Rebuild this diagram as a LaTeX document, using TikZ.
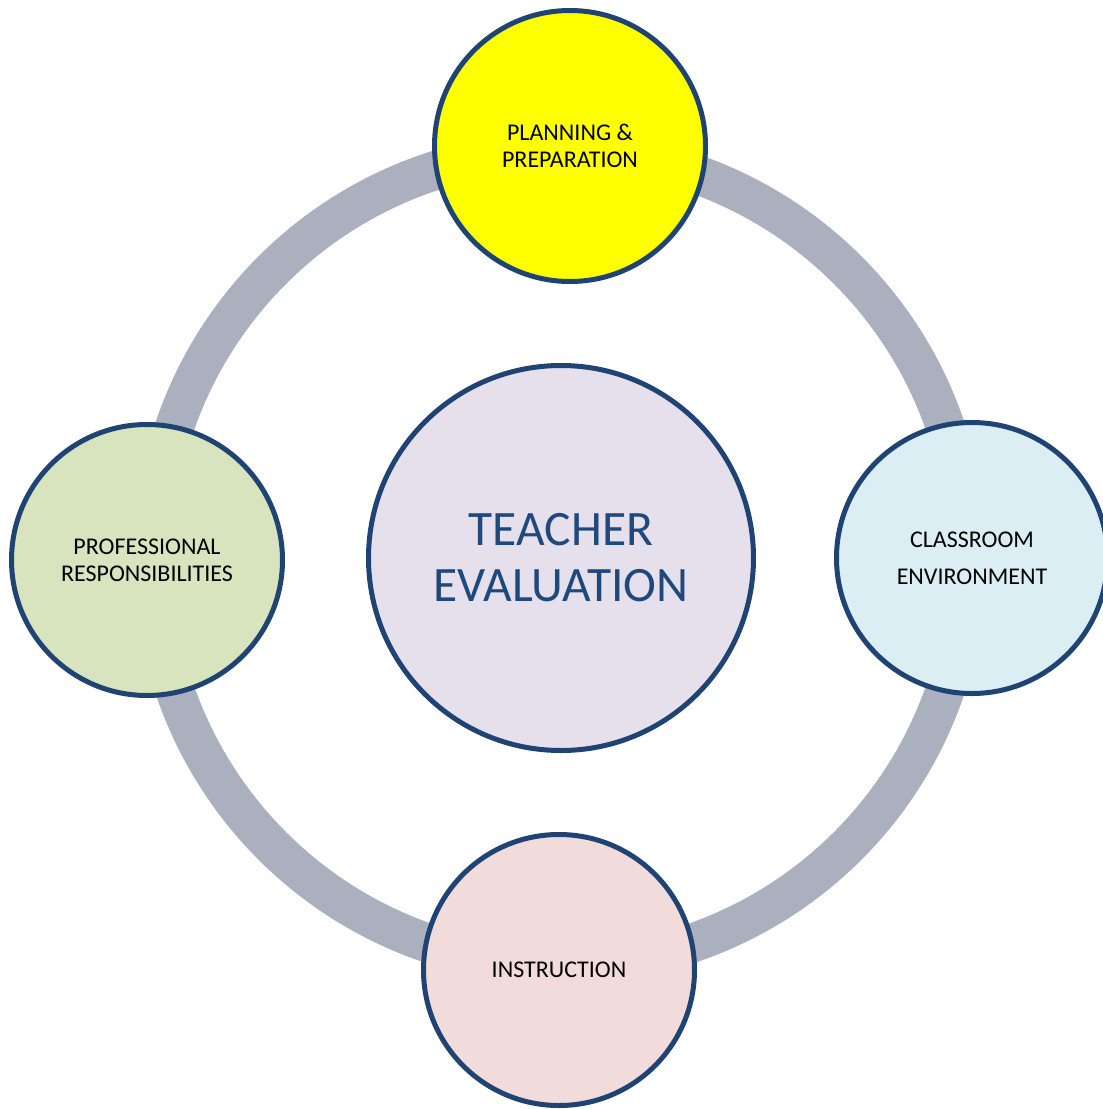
\documentclass[tikz,border=0pt]{standalone}
\usepackage{fontspec}
\setmainfont{Carlito}
\usepackage{xcolor}
\definecolor{ringgray}{RGB}{171, 176, 191}
\definecolor{edgeblue}{RGB}{31, 68, 115}
\definecolor{titleblue}{RGB}{31, 73, 125}
\definecolor{planyellow}{RGB}{255, 255, 0}
\definecolor{roomblue}{RGB}{218, 238, 243}
\definecolor{teachpink}{RGB}{242, 220, 219}
\definecolor{profgreen}{RGB}{215, 228, 189}
\definecolor{hublilac}{RGB}{229, 224, 236}
\usepackage{tikz}
\usetikzlibrary{positioning,backgrounds,calc}

\begin{document}
\begin{tikzpicture}[
    x=1pt, y=-1pt,
    hub/.style={circle, draw=edgeblue, line width=5pt, fill=hublilac, minimum size=385pt, inner sep=0pt, align=center, text=titleblue, font=\fontsize{49.5}{56}\selectfont},
    facet/.style={circle, draw=edgeblue, line width=5pt, minimum size=271pt, inner sep=0pt, align=center, font=\fontsize{24}{27}\selectfont},
    ring/.style={draw=ringgray, line width=39pt}
]
\useasboundingbox (0,0) rectangle (1103,1109);

\node[hub] (hub) at (561,558) {TEACHER\\EVALUATION};

\node[facet, fill=planyellow] (plan) at (570,146) {PLANNING \&\\PREPARATION};
\node[facet, fill=roomblue] (room) at (972,558) {CLASSROOM\\[10pt]ENVIRONMENT};
\node[facet, fill=teachpink] (teach) at (559,970) {INSTRUCTION};
\node[facet, fill=profgreen] (prof) at (147,560) {PROFESSIONAL\\RESPONSIBILITIES};

\begin{scope}[on background layer]
\draw[ring] ($(hub.center)+(-1,0)$) circle[radius=407pt];
\end{scope}

\end{tikzpicture}
\end{document}
